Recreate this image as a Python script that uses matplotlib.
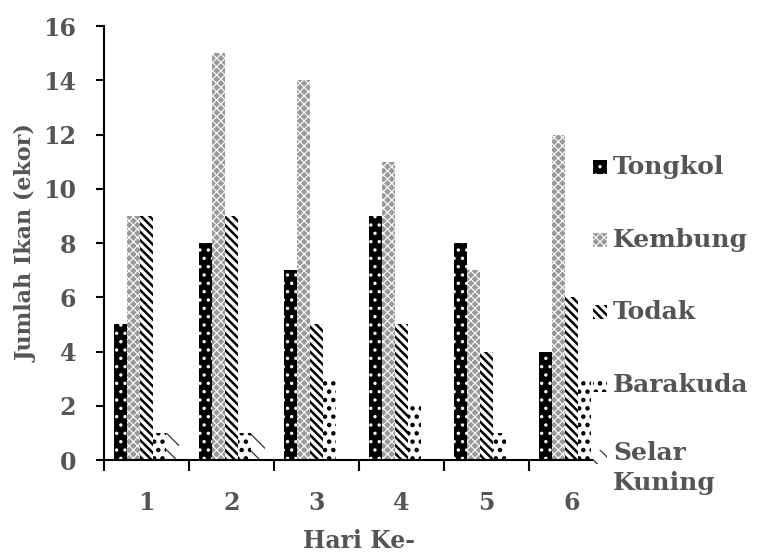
import numpy as np
import matplotlib
matplotlib.use("Agg")
import matplotlib.pyplot as plt
from matplotlib.patches import Rectangle

# ============================================================
# Data
# ============================================================
days = ["1", "2", "3", "4", "5", "6"]
species = ["Tongkol", "Kembung", "Todak", "Barakuda", "Selar\nKuning"]

tongkol = [5, 8, 7, 9, 8, 4]
kembung = [9, 15, 14, 11, 7, 12]
todak = [9, 9, 5, 5, 4, 6]
barakuda = [1, 1, 3, 2, 1, 3]
selar_kuning = [1, 1, 0, 0, 0, 0]

series = [tongkol, kembung, todak, barakuda, selar_kuning]

# fill style per species: face, hatch colour, hatch, hatch linewidth
styles = [
    ("black", "white", "..", 1.2),
    ("#9a9a9a", "white", "xxxx", 0.8),
    ("white", "black", "\\\\\\\\", 1.8),
    ("white", "black", "..", 2.0),
    ("white", "#333333", "\\\\", 0.9),
]

text_col = "#555555"
plt.rcParams["font.family"] = ["DejaVu Serif"]

fig = plt.figure(figsize=(7.57, 5.55), dpi=100)
ax = fig.add_axes([0.1374, 0.171, 0.674, 0.782])

x = np.arange(len(days))
w = 0.155
for k, vals in enumerate(series):
    face, hc, hatch, hlw = styles[k]
    with plt.rc_context({"hatch.linewidth": hlw, "hatch.color": hc}):
        ax.bar(x + (k - 2) * w, vals, width=w, color=face, edgecolor=hc,
               hatch=hatch, linewidth=0)

ax.set_xlim(-0.5, len(days) - 0.5)
ax.set_ylim(0, 16)
ax.set_yticks(np.arange(0, 17, 2))
ax.set_xticks(x)
ax.set_xticklabels(days)
ax.set_xticks(np.arange(-0.5, len(days)), minor=True)
ax.tick_params(axis="x", which="major", length=0, pad=22)
ax.tick_params(axis="x", which="minor", length=8, width=1.5, direction="out")
ax.tick_params(axis="y", length=6, width=1.5, pad=14)
for lab in ax.get_xticklabels() + ax.get_yticklabels():
    lab.set_fontsize(17)
    lab.set_color(text_col)
    lab.set_fontweight("bold")

for s in ["top", "right"]:
    ax.spines[s].set_visible(False)
for s in ["left", "bottom"]:
    ax.spines[s].set_linewidth(1.5)

ax.set_ylabel("Jumlah Ikan (ekor)", fontsize=16, fontweight="bold",
              color=text_col, labelpad=4)
ax.set_xlabel("Hari Ke-", fontsize=17, fontweight="bold", color=text_col,
              labelpad=10)

# ============================================================
# Legend drawn by hand (Excel style, white box over the axis end)
# ============================================================
fig.patches.append(Rectangle((0.787, 0.08), 0.213, 0.68,
                             transform=fig.transFigure, facecolor="white",
                             edgecolor="none", zorder=5))
y0 = 1 - 167 / 555
step = 72.5 / 555
for k, name in enumerate(species):
    face, hc, hatch, hlw = styles[k]
    yy = y0 - k * step
    with plt.rc_context({"hatch.linewidth": hlw}):
        fig.patches.append(Rectangle((593 / 757, yy - 7 / 555), 14 / 757, 14 / 555,
                                     transform=fig.transFigure, facecolor=face,
                                     edgecolor=hc, hatch=hatch, linewidth=0,
                                     zorder=6))
    fig.text(613 / 757, yy + 16 / 555 if "\n" in name else yy, name,
             fontsize=18, fontweight="bold", color=text_col,
             va="top" if "\n" in name else "center", ha="left", zorder=7,
             linespacing=1.3)

fig.savefig("out.png", dpi=100)
